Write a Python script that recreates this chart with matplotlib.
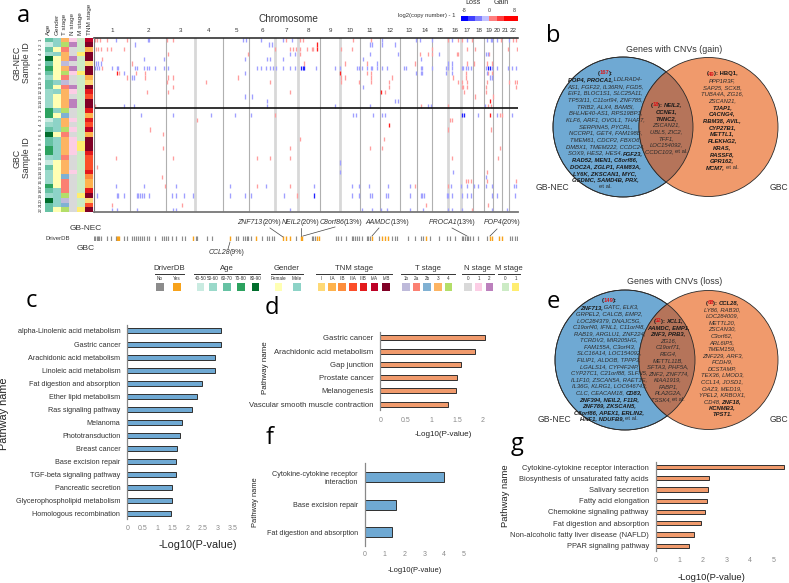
import re
import numpy as np
from matplotlib import pyplot as plt
from matplotlib.colors import LinearSegmentedColormap, ListedColormap
from matplotlib.patches import Circle

plt.rcParams['font.family'] = ['Liberation Sans', 'DejaVu Sans']

W, H = 789, 583

# panel a
chrom_names = [str(i) for i in range(1, 23)]
chrom_bins = [36, 36, 29, 28, 26, 26, 23, 22, 20, 20, 20, 20, 17, 15, 16, 13, 12, 11, 9, 9, 7, 9]
thick_seps = [2, 5, 6, 8, 14, 15]

age_vals = [2, 0, 2, 1, 4, 2, 3, 2, 1, 2, 2, 1, 1, 1, 1,
            3, 3, 0, 1, 2, 4, 2, 2, 3, 3, 1, 0, 2, 1, 1, 1, 3, 2, 1, 4, 2, 2]
gender_vals = [1, 1, 0, 1, 0, 0, 0, 0, 0, 1, 0, 1, 0, 0, 0,
               1, 0, 1, 1, 1, 0, 1, 1, 1, 1, 1, 0, 0, 0, 0, 0, 0, 1, 1, 1, 1, 0]
t_vals = [3, 4, 1, 3, 3, 0, 3, 4, 1, 0, 1, 3, 3, 3, 3,
          4, 2, 3, 3, 4, 1, 3, 3, 3, 3, 1, 3, 3, 3, 2, 1, 1, 1, 4, 0, 2, 4]
n_vals = [1, 2, 0, 0, 2, 0, 2, 1, 0, 0, 2, 1, 0, 2, 2,
          0, 0, 1, 0, 1, 0, 1, 1, 1, 1, 0, 0, 0, 1, 0, 0, 0, 0, 0, 0, 0, 0]
m_vals = [0, 0, 0, 1, 0, 0, 0, 1, 0, 0, 0, 0, 0, 0, 0,
          0, 0, 0, 0, 0, 0, 0, 1, 1, 0, 0, 0, 0, 0, 0, 0, 0, 0, 1, 0, 0, 1]
tnm_vals = [5, 6, 1, 6, 6, 0, 6, 6, 1, 0, 6, 4, 3, 6, 6,
            4, 1, 4, 3, 5, 1, 6, 6, 6, 4, 3, 3, 3, 4, 2, 1, 1, 4, 6, 0, 3, 6]

gain_bins = [
    [1, 3, 6, 13, 33, 73, 79, 192, 206, 209, 259, 277, 354, 364, 368, 378, 407, 419, 422],
    [223],
    [2, 4, 7, 13, 17, 30, 181, 196, 199, 202, 206, 213, 218, 219, 223, 247, 258, 338, 373, 381, 414, 423],
    [74, 154, 206, 326, 334, 338, 363, 364, 395],
    [8],
    [38, 210, 251, 273, 321, 373, 380, 393, 398],
    [8],
    [23, 25, 42, 51, 246, 273, 277, 372, 394, 398],
    [33, 51, 74, 79, 144, 247, 251, 277, 298, 372, 359],
    [73, 112, 176, 247, 265, 277, 295, 364, 368, 373, 393, 415, 421, 423],
    [79, 295, 368, 369, 373, 392, 422],
    [53, 74, 196, 287, 291, 370, 392],
    [381, 399],
    [396],
    [1, 327, 354, 394, 397],
    [],
    [181, 396, 406, 408],
    [103, 356, 358],
    [295],
    [56, 354, 397],
    [69],
    [206, 290],
    [],
    [69, 196, 276, 288, 406],
    [],
    [22, 79, 163, 176, 196, 358, 404],
    [],
    [3],
    [393],
    [68],
    [372, 374, 377, 393, 422],
    [71, 163, 196, 321, 354],
    [],
    [203],
    [],
    [18, 88, 332, 394],
    [378],
]
loss_bins = [
    [22, 54, 55, 149, 152, 167, 189, 198, 288, 322, 326, 338, 358, 373, 393, 397, 398, 403, 415],
    [41, 175, 178, 276, 278, 288, 301],
    [],
    [196, 201, 276, 304, 345, 392, 394],
    [50, 70, 151, 173, 176, 189, 269, 327],
    [2, 4, 7, 283, 354, 358],
    [1, 3, 5, 18, 23, 24, 41, 43, 50, 53, 55, 61, 70, 74, 163, 167, 172, 176, 179, 182, 189, 196, 201,
     207, 209, 210, 222, 241, 246, 263, 265, 268, 273, 277, 278, 283, 288, 293, 310, 312, 327, 328,
     338, 352, 354, 358, 368, 369, 372, 374, 377, 392, 394, 396, 398, 403, 414, 418, 422],
    [30, 151, 322, 327, 328, 352, 358, 393],
    [38, 40, 396, 398],
    [],
    [269],
    [],
    [151, 158],
    [173, 301, 304],
    [30, 40, 173, 241, 276, 334, 337, 391],
    [],
    [47, 79, 117, 141, 157, 259, 262, 279, 288, 291, 368, 370, 384, 403, 418],
    [], [], [], [], [], [], [], [], [],
    [246],
    [],
    [246, 359],
    [392],
    [],
    [22, 50, 82, 136, 172, 220, 258, 265, 275, 294, 316, 357, 367, 373, 380, 384, 392, 398, 420, 422],
    [],
    [3, 23, 24, 30, 43, 44, 46, 48, 50, 55, 78, 82, 90, 99, 136, 151, 157, 190, 220, 258, 265, 276, 278,
     292, 294, 316, 327, 328, 330, 353, 354, 358, 368, 373, 377, 398, 403, 421],
    [],
    [],
    [18, 23, 43, 79, 82, 196, 268, 278, 287, 293, 316, 329, 354, 358, 368, 398, 413],
]
strong_calls = [(1, 223), (2, 223), (6, 207), (6, 209), (6, 210), (6, 394), (6, 396), (7, 23), (7, 246),
                (11, 287), (13, 396), (16, 368), (16, 370), (16, 396), (18, 295), (33, 220)]

driver_no = [0, 1, 3, 4, 5, 7, 13, 17, 22, 30, 33, 38, 40, 42, 44, 46, 48, 50, 53, 55, 61, 68, 70, 72, 74,
             78, 82, 88, 91, 102, 103, 113, 118, 142, 144, 149, 151, 153, 154, 157, 168, 173, 175, 178, 180,
             202, 218, 219, 221, 242, 244, 247, 252, 258, 259, 261, 263, 265, 268, 273, 274, 276, 285, 298,
             301, 303, 314, 321, 327, 329, 336, 345, 353, 356, 361, 368, 369, 371, 373, 374, 376, 379, 384,
             393, 416, 418, 421, 423]
driver_yes = [23, 24, 25, 99, 136, 162, 189, 192, 196, 207, 208, 223, 225, 278, 288, 291, 294, 332, 396, 398,
              405, 408]

driver_colors = ['#8c8c8c', '#f7a21b']
age_colors = ['#c9ebe1', '#9ad9ca', '#66c2a4', '#2ca25f', '#006d2c']
gender_colors = ['#ffffb3', '#8dd3c7']
tnm_colors = ['#fed976', '#feb24c', '#fd8d3c', '#fc4e2a', '#e31a1c', '#bd0026', '#800026']
t_colors = ['#bebada', '#fb8072', '#80b1d3', '#fdb462', '#b3de69']
n_colors = ['#d9d9d9', '#fccde5', '#bc80bd']
m_colors = ['#ccebc5', '#ffed6f']
driver_labels = ['No', 'Yes']
age_labels = ['40-50', '50-60', '60-70', '70-80', '80-90']
gender_labels = ['Female', 'Male']
tnm_labels = ['I', 'IIA', 'IIB', 'IIIA', 'IIIB', 'IVA', 'IVB']
t_labels = ['1b', '2a', '2b', '3', '4']
n_labels = ['0', '1', '2']
m_labels = ['0', '1']

# panels b, e
gain_left = ['(#167#):', '*POP4, PROCA1,* LDLRAD4-', 'AS1, FGF22, IL36RN, FGD5,', 'EIF1, BLOC1S1, SLC25A11,',
             'TP53I11, C11orf94, ZNF785,', 'TRIB2, ALX4, BAMBI,', 'BHLHE40-AS1, RPS19BP1,',
             'KLF6, ARF1, OVOL1, THAP7,', 'SERPINA5, PYCRL,', 'NCCRP1, GET4, FAM198B,',
             'TMEM61, CDCP2, FBXO6,', 'DMBX1, TMEM222, CCDC24,', 'SOX9, HES2, HES4, *FGF23,*',
             '*RAD52, MEN1, C8orf86,*', '*DOC2A, ZGLP1, FAM83A,*', '*LY6K, ZKSCAN1, MYC,*',
             '*GSDMC, SAMD4B, PRX,*', 'et al.']
gain_mid = ['(#18#): *NEIL2,*', '*CCNE1,*', '*TNNC2,*', 'ZSCAN21,', 'UBL5, ZIC2,', 'TFF1,', 'LOC154092,',
            'CCDC103, et al.']
gain_right = ['(#49#): HBQ1,', 'PPP1R3F,', 'SAP25, SCXB,', 'TUBA4A, ZG16,', 'ZSCAN21,', '*TJAP1,*', '*CACNG4,*',
              '*RBM38, AVIL,*', '*CYP27B1,*', '*METTL1,*', '*PLEKHG2,*', '*KRAS,*', '*RASSF8,*', '*GPR162,*',
              '*MCM7,* et al.']
loss_left = ['(#149#):', '*ZNF713,* GATC, ELK3,', 'GRPEL2, CALCB, EMP2,', 'LOC284379, DNAJC5G,',
             'C19orf40, IFNL1, C11orf48,', 'RAB19, ARGLU1, ZNF224,', 'TCRDV2, MIR205HG,', 'FAM155A, C3orf43,',
             'SLC16A14, LOC154092,', 'FILIP1, ALDOB, TPPP3,', 'LGALS14, CYP4F24P,', 'CYP27C1, C21orf88, SLFN5,',
             'IL1F10, ZSCAN5A, RAET1E,', 'IL36G, KLRG1, LOC646743,', 'CLC, CEACAM18, *CD83,*',
             '*ZNF394, NEIL2, F11R,*', '*ZNF789, ZKSCAN5,*', '*C8orf86, APEX1, ERLIN2,*', '*HNF1, NDUFB9,* et al.']
loss_mid = ['(#32#): *XCL1,*', '*AAMDC, EMP1,*', '*ZNF3, PRB3,*', 'ZG16,', 'C19orf71,', 'REG4,', 'METTL11B,',
            'SFTA3, PHF5A,', 'ZNF2, ZNF774,', 'KIAA1919,', 'FABP1,', 'PLA2G2A,', 'TSSK4, et al.']
loss_right = ['(#68#): *CCL28,*', 'LY86, RAB30,', 'LOC284009,', 'METTL20,', 'ZSCAN30,', 'C3orf62,', 'ARL6IP5,',
              'TMEM159,', 'ZNF229, ARF3,', 'PCDH9,', 'DCSTAMP,', 'TEX36, LMOD3,', 'CCL14, JOSD1,', 'OAZ3, MED19,',
              'YPEL2, KRBOX1,', 'CD48, *ZNF18,*', '*KCNMB3,*', '*TPST1.*']

# panels c, d, f, g
c_names = ['alpha-Linolenic acid metabolism', 'Gastric cancer', 'Arachidonic acid metabolism',
           'Linoleic acid metabolism', 'Fat digestion and absorption', 'Ether lipid metabolism',
           'Ras signaling pathway', 'Melanoma', 'Phototransduction', 'Breast cancer', 'Base excision repair',
           'TGF-beta signaling pathway', 'Pancreatic secretion', 'Glycerophospholipid metabolism',
           'Homologous recombination']
c_vals = [3.11, 3.09, 2.92, 2.92, 2.48, 2.31, 2.13, 1.80, 1.75, 1.63, 1.61, 1.60, 1.47, 1.47, 1.45]
d_names = ['Gastric cancer', 'Arachidonic acid metabolism', 'Gap junction', 'Prostate cancer', 'Melanogenesis',
           'Vascular smooth muscle contraction']
d_vals = [2.04, 1.84, 1.57, 1.49, 1.47, 1.32]
f_names = ['Cytokine-cytokine receptor\ninteraction', 'Base excision repair', 'Fat digestion and absorption']
f_vals = [4.0, 1.57, 1.38]
g_names = ['Cytokine-cytokine receptor interaction', 'Biosynthesis of unsaturated fatty acids',
           'Salivary secretion', 'Fatty acid elongation', 'Chemokine signaling pathway',
           'Fat digestion and absorption', 'Non-alcoholic fatty liver disease (NAFLD)', 'PPAR signaling pathway']
g_vals = [5.42, 2.25, 2.20, 2.16, 2.08, 1.91, 1.61, 1.41]

BLUE = '#6fa9d3'
ORANGE = '#f09a6c'
OVERLAP = '#b5745a'
DARK = '#333333'

fig = plt.figure(figsize=(W / 100, H / 100), dpi=100)


def px_axes(x0, y0, x1, y1, **kw):
    return fig.add_axes([x0 / W, 1 - y1 / H, (x1 - x0) / W, (y1 - y0) / H], **kw)


# overlay in picture pixels, for labels, legends and venns
ov = px_axes(0, 0, W, H)
ov.set_xlim(0, W)
ov.set_ylim(H, 0)
ov.axis('off')
ov.set_zorder(5)
ov.patch.set_alpha(0)

for s, x, y in [('a', 23, 16), ('b', 553, 36), ('c', 31, 301), ('d', 272, 308), ('e', 553, 302),
                ('f', 270, 438), ('g', 517, 444)]:
    ov.text(x, y, s, fontsize=17, ha='center', va='center', family=['Open Sans', 'DejaVu Sans'])

# clinical tracks
n_rows = len(age_vals)
tracks = [('Age', age_vals, age_colors), ('Gender', gender_vals, gender_colors), ('T stage', t_vals, t_colors),
          ('N stage', n_vals, n_colors), ('M stage', m_vals, m_colors), ('TNM stage', tnm_vals, tnm_colors)]
clin = px_axes(45, 37.5, 93.5, 212)
clin.set_xlim(0, len(tracks))
clin.set_ylim(n_rows, 0)
clin.axis('off')
for k, (name, vals, cols) in enumerate(tracks):
    clin.barh(np.arange(n_rows) + 0.5, [0.94] * n_rows, left=k, height=1.0, color=[cols[v] for v in vals])
    ov.text(45 + 8.08 * (k + 0.45), 35, name, rotation=90, fontsize=4.6, ha='center', va='bottom', color=DARK)

# heat map of copy number calls
heat_cmap = LinearSegmentedColormap.from_list('cn', ['#0000ff', '#ffffff', '#ff0000'])
heat = px_axes(94, 37.5, 518, 212)
heat.set_xlim(0, sum(chrom_bins))
heat.set_ylim(n_rows, 0)
heat.set_xticks([])
heat.set_yticks([])
for side in ['left', 'right']:
    heat.spines[side].set_visible(False)
heat.spines['top'].set_linewidth(1.1)
heat.spines['top'].set_color('#222222')
heat.spines['bottom'].set_linewidth(1.3)
heat.spines['bottom'].set_color('#777777')

ends = np.cumsum(chrom_bins)
starts = ends - np.array(chrom_bins)
for i, e in enumerate(ends[:-1]):
    if i in thick_seps:
        heat.axvline(e, color='#d8d8d8', lw=2.0, zorder=1)
    else:
        heat.axvline(e, color='#b0b0b0', lw=0.8, zorder=1)
    ov.text(94 + (starts[i] + e) / 2, 30, chrom_names[i], fontsize=4.5, ha='center', va='center', color=DARK)
ov.text(94 + (starts[-1] + ends[-1]) / 2, 30, chrom_names[-1], fontsize=4.5, ha='center', va='center', color=DARK)

for r in range(n_rows):
    for b in gain_bins[r]:
        v = 7 if (r, b) in strong_calls else 3.0
        heat.vlines(b, r + 0.05, r + 0.95, color=heat_cmap((v + 8) / 16), lw=0.95, zorder=2)
    for b in loss_bins[r]:
        v = -7 if (r, b) in strong_calls else -3.0
        heat.vlines(b, r + 0.05, r + 0.95, color=heat_cmap((v + 8) / 16), lw=0.95, zorder=2)
heat.axhline(15, color='#111111', lw=1.2, zorder=3)

for r in range(n_rows):
    num = r + 1 if r < 15 else r - 14
    ov.text(41, 37.5 + 4.72 * (r + 0.5), str(num), fontsize=3.2, ha='center', va='center',
            rotation=90, color=DARK)
ov.plot([94, 94], [37.5, 212], color='#777777', lw=0.8)
ov.text(17, 63, 'GB-NEC', rotation=90, fontsize=6.3, ha='center', va='center', color=DARK)
ov.text(27, 63, 'Sample ID', rotation=90, fontsize=6.3, ha='center', va='center', color=DARK)
ov.text(17, 158, 'GBC', rotation=90, fontsize=6.3, ha='center', va='center', color=DARK)
ov.text(27, 158, 'Sample ID', rotation=90, fontsize=6.3, ha='center', va='center', color=DARK)
ov.text(288.5, 19, 'Chromosome', fontsize=7.2, ha='center', va='center', color=DARK)

# colour scale
levels = np.array([[-8, -6, -4, -2, 2, 4, 6, 8]])
cb = px_axes(461, 16, 517, 21)
cb.imshow(levels, aspect='auto', cmap=ListedColormap([heat_cmap((v + 8) / 16) for v in levels[0]]))
cb.axis('off')
ov.text(426.5, 16, 'log2(copy number) - 1', fontsize=4.2, ha='center', va='center', color=DARK)
ov.text(473, 3, 'Loss', fontsize=5.2, ha='center', va='center', color=DARK)
ov.text(501, 3, 'Gain', fontsize=5.2, ha='center', va='center', color=DARK)
for s, x in [('-8', 464), ('0', 489), ('8', 514)]:
    ov.text(x, 11, s, fontsize=3.8, ha='center', va='center', color=DARK)

# driver gene strip
strip = px_axes(94, 236, 518, 241)
strip.set_xlim(0, sum(chrom_bins))
strip.set_ylim(0, 1)
strip.axis('off')
strip.vlines(driver_no, 0, 1, color=driver_colors[0], lw=0.85)
strip.vlines(driver_yes, 0, 1, color=driver_colors[1], lw=1.0)
ov.text(58, 238.5, 'DriverDB', fontsize=4.3, ha='center', va='center', color=DARK)
ov.text(86, 228, 'GB-NEC', fontsize=6, ha='center', va='center', color=DARK)
ov.text(86, 249, 'GBC', fontsize=6, ha='center', va='center', color=DARK)


def mixed_line(x, y, pieces, size):
    # pieces of (text, weight, style, colour), laid out side by side and centred on x
    texts = [ov.text(0, y, s.replace(' ', '\u00a0'), fontsize=size, fontweight=w, fontstyle=st, color=c,
                     va='center', ha='left') for s, w, st, c in pieces]
    rend = fig.canvas.get_renderer()
    widths = [t.get_window_extent(rend).width - 0.5 for t in texts]
    cur = x - sum(widths) / 2
    for t, wd in zip(texts, widths):
        t.set_x(cur)
        cur += wd


for gene, pct, xc, yc, x0, y0, x1, y1 in [
        ('ZNF713', '(20%)', 259, 222, 270, 228, 283, 237), ('NEIL2', '(20%)', 300, 222, 301, 228, 301, 236),
        ('C8orf86', '(13%)', 341, 222, 335, 227, 303, 236), ('AAMDC', '(13%)', 387, 222, 379, 228, 372, 236),
        ('PROCA1', '(13%)', 452, 222, 452, 228, 467, 236), ('POP4', '(20%)', 502, 222, 497, 229, 490, 236),
        ('CCL28', '(9%)', 226, 252, 230, 242, 228, 249)]:
    mixed_line(xc, yc, [(gene, 'normal', 'italic', DARK), (pct, 'normal', 'normal', DARK)], 5)
    ov.plot([x0, x1], [y0, y1], color='#444444', lw=0.5)

# legend groups
legend_groups = [
    ('DriverDB', driver_labels, driver_colors, [160, 177], 155, 184),
    ('Age', age_labels, age_colors, [200.5, 213, 227, 241, 255.5], 194, 260),
    ('Gender', gender_labels, gender_colors, [278.5, 297], 271, 303),
    ('TNM stage', tnm_labels, tnm_colors, [321.5, 332, 342, 353, 363.5, 374.5, 386], 316, 392),
    ('T stage', t_labels, t_colors, [406, 416.5, 427, 438, 448.5], 401, 455),
    ('N stage', n_labels, n_colors, [468, 478.5, 489.5], 462, 494),
    ('M stage', m_labels, m_colors, [505.5, 515.5], 498, 520),
]
for title, labs, cols, xs, xa, xb in legend_groups:
    ov.text((xa + xb) / 2, 269, title, fontsize=5.6, ha='center', va='center', color=DARK)
    ov.plot([xa, xb], [274, 274], color='#333333', lw=0.7)
    for lab, col, x in zip(labs, cols, xs):
        ov.text(x, 278.5, lab, fontsize=3.3, ha='center', va='center', color=DARK)
        ov.add_patch(plt.Rectangle((x - 3.8, 283.2), 7.6, 7.6, color=col, lw=0))


def gene_line(x, y, line, size=4.2):
    # *bold italic*, #red number#, the rest italic, et al. upright
    parts = [p for p in re.split(r'(\*[^*]+\*)', line) if p]
    pieces = []
    for p in parts:
        if p.startswith('*'):
            pieces.append((p.strip('*'), 'bold', 'italic', '#1a1a1a'))
        elif '#' in p:
            a, num, b = p.split('#')
            pieces.append((a, 'bold', 'normal', '#1a1a1a'))
            pieces.append((num, 'bold', 'normal', '#d7191c'))
            pieces.append((b, 'bold', 'normal', '#1a1a1a'))
        elif 'et al' in p:
            head, tail = p.split('et al')
            if head:
                pieces.append((head, 'normal', 'italic', '#2b2b2b'))
            pieces.append(('et al' + tail, 'normal', 'normal', '#2b2b2b'))
        else:
            pieces.append((p, 'normal', 'italic', '#2b2b2b'))
    mixed_line(x, y, pieces, size)


def venn(cx1, cx2, cy, r1, r2, title, title_x, title_y, label_y, columns, step):
    ov.add_patch(Circle((cx1, cy), r1, fc=BLUE, ec='#2a2a2a', lw=0.6))
    right = Circle((cx2, cy), r2, fc=ORANGE, ec='#2a2a2a', lw=0.6)
    ov.add_patch(right)
    clip = Circle((cx1, cy), r1, transform=ov.transData)
    both = Circle((cx2, cy), r2, fc=OVERLAP, ec='#2a2a2a', lw=0.6)
    ov.add_patch(both)
    both.set_clip_path(clip)
    ov.add_patch(Circle((cx1, cy), r1, fc='none', ec='#2a2a2a', lw=0.6))
    ov.text(title_x, title_y, title, fontsize=6.4, ha='center', va='center', color=DARK)
    ov.text(cx1 - 71, label_y, 'GB-NEC', fontsize=6.2, ha='center', va='center', color=DARK)
    ov.text(cx2 + 70, label_y, 'GBC', fontsize=6.2, ha='center', va='center', color=DARK)
    for lines, x, y0 in columns:
        for i, line in enumerate(lines):
            gene_line(x, y0 + step * i, line)


venn(623, 708.5, 127, 70, 69.5, 'Genes with CNVs (gain)', 674, 49, 188,
     [(gain_left, 605, 73), (gain_mid, 666, 105), (gain_right, 722, 74)], 6.68)
venn(625, 708.5, 360, 70, 69.5, 'Genes with CNVs (loss)', 675, 282, 420,
     [(loss_left, 609, 300.7), (loss_mid, 668, 321), (loss_right, 722, 303)], 6.57)


def bar_panel(names, vals, color, x0, unit, xmax, step, y_top, y_bot, first_y, bar_h, ticks, tick_y,
              name_size, xlabel_xy, xlabel_size, ylab_xy, ylab_size):
    ax = px_axes(x0, y_top, x0 + unit * xmax, y_bot)
    y = np.arange(len(vals))
    ax.set_xlim(0, xmax)
    ax.set_ylim((y_bot - first_y) / step, (y_top - first_y) / step)
    ax.barh(y, vals, height=bar_h / step, color=color, edgecolor='#2f2f2f', linewidth=0.7)
    ax.set_yticks(y)
    ax.set_yticklabels(names, fontsize=name_size, color='#333333')
    ax.set_xticks([])
    ax.tick_params(axis='y', length=0, pad=5)
    for side in ['top', 'right', 'bottom']:
        ax.spines[side].set_visible(False)
    ax.spines['left'].set_color('#888888')
    ax.spines['left'].set_linewidth(0.9)
    ax.patch.set_alpha(0)
    for t in ticks:
        ov.text(x0 + unit * t, tick_y, f'{t:g}', fontsize=5, ha='center', va='center', color='#8a8a8a')
    ov.text(xlabel_xy[0], xlabel_xy[1], '-Log10(P-value)', fontsize=xlabel_size, ha='center', va='center',
            color='#222222')
    ov.text(ylab_xy[0], ylab_xy[1], 'Pathway name', fontsize=ylab_size, rotation=90, ha='center', va='center',
            color='#222222')


bar_panel(c_names, c_vals, BLUE, 127.3, 30.2, 3.6, 13.05, 325, 519.3, 331, 5,
          [0, 0.5, 1, 1.5, 2, 2.5, 3, 3.5], 529, 5.2, (197.7, 545), 7.8, (4, 414), 7.8)
bar_panel(d_names, d_vals, ORANGE, 380.3, 51.3, 2.2, 13.3, 331.7, 410, 337.7, 5,
          [0, 0.5, 1, 1.5, 2], 420.7, 5.55, (443, 435), 5.8, (266, 367.7), 5.8)
bar_panel(f_names, f_vals, BLUE, 365, 19.8, 5.4, 27.4, 463, 546, 477.3, 10,
          [0, 1, 2, 3, 4, 5], 555, 5.2, (414.7, 570), 5.4, (256, 501.7), 5.4)
bar_panel(g_names, g_vals, ORANGE, 655.7, 23.6, 5.6, 11.24, 461.7, 551, 467, 4.3,
          [0, 1, 2, 3, 4, 5], 560, 5.45, (712, 577.7), 6.8, (505.7, 496), 6.8)

fig.savefig('out.png', dpi=100)
